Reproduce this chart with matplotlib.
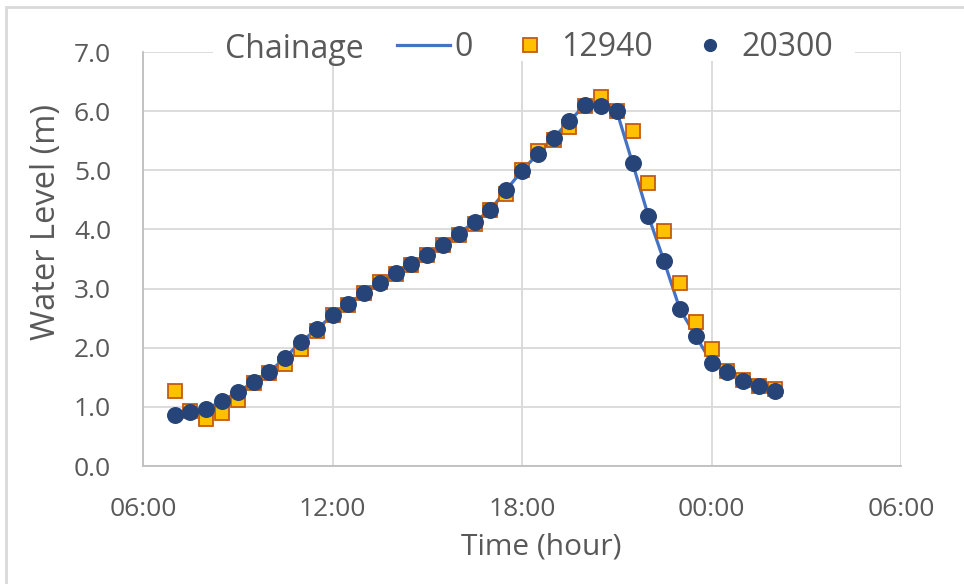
import matplotlib.pyplot as plt
from matplotlib.lines import Line2D
from matplotlib.patches import Rectangle
from matplotlib.ticker import FuncFormatter

plt.rcParams['font.family'] = ['Open Sans', 'DejaVu Sans']

# time in hours since midnight of day 1 (values > 24 are next day)
hours = [7.0, 7.5, 8.0, 8.5, 9.0, 9.5, 10.0, 10.5, 11.0, 11.5,
         12.0, 12.5, 13.0, 13.5, 14.0, 14.5, 15.0, 15.5, 16.0, 16.5,
         17.0, 17.5, 18.0, 18.5, 19.0, 19.5, 20.0, 20.5, 21.0, 21.5,
         22.0, 22.5, 23.0, 23.5, 24.0, 24.5, 25.0, 25.5, 26.0]

# water level (m) per chainage
wl_0 = [0.86, 0.91, 0.96, 1.10, 1.25, 1.42, 1.59, 1.83, 2.10, 2.31,
        2.55, 2.74, 2.93, 3.09, 3.26, 3.41, 3.57, 3.74, 3.93, 4.13,
        4.33, 4.67, 4.99, 5.28, 5.55, 5.83, 6.11, 6.08, 6.00, 5.12,
        4.23, 3.46, 2.65, 2.20, 1.75, 1.59, 1.43, 1.35, 1.27]
wl_12940 = [1.26, 0.93, 0.80, 0.89, 1.12, 1.40, 1.58, 1.73, 1.98, 2.29,
            2.55, 2.73, 2.92, 3.11, 3.25, 3.40, 3.56, 3.73, 3.91, 4.10,
            4.33, 4.60, 5.00, 5.33, 5.52, 5.73, 6.08, 6.24, 6.01, 5.67,
            4.78, 3.98, 3.09, 2.43, 1.97, 1.60, 1.45, 1.35, 1.31]
wl_20300 = [0.86, 0.91, 0.96, 1.10, 1.25, 1.42, 1.59, 1.83, 2.10, 2.31,
            2.55, 2.74, 2.93, 3.09, 3.26, 3.41, 3.57, 3.74, 3.93, 4.13,
            4.33, 4.67, 4.99, 5.28, 5.55, 5.83, 6.11, 6.08, 6.00, 5.13,
            4.23, 3.46, 2.65, 2.20, 1.75, 1.59, 1.43, 1.35, 1.27]

txt = '#595959'
grid = '#d9d9d9'
W, H = 964, 584

fig = plt.figure(figsize=(9.64, 5.84), dpi=100)
ax = fig.add_axes([143/W, 118/H, 758/W, 414/H])

ax.plot(hours, wl_0, color='#4472c4', lw=2.3, zorder=3)
ax.plot(hours, wl_12940, ls='none', marker='s', ms=9.4, mfc='#ffc000',
        mec='#c55a11', mew=1.3, zorder=4)
ax.plot(hours, wl_20300, ls='none', marker='o', ms=11.2, mfc='#264478',
        mec='#264478', zorder=5)

ax.set_xlim(6, 30)
ax.set_ylim(0, 7)
ax.set_xticks([6, 12, 18, 24, 30])
ax.set_yticks([0, 1, 2, 3, 4, 5, 6, 7])
ax.xaxis.set_major_formatter(FuncFormatter(lambda v, p: '%02d:00' % (int(v) % 24)))
ax.yaxis.set_major_formatter(FuncFormatter(lambda v, p: '%.1f' % v))
ax.grid(True, color=grid, lw=1.3)
ax.set_axisbelow(True)
for s in ax.spines.values():
    s.set_visible(False)
for side in ['left', 'bottom']:
    ax.spines[side].set_visible(True)
    ax.spines[side].set_color('#bfbfbf')
    ax.spines[side].set_linewidth(1.3)
ax.tick_params(length=0, labelsize=19, colors=txt)
ax.tick_params(axis='x', pad=22)
ax.tick_params(axis='y', pad=23)

# axis titles (manually placed, like the original)
ax.set_xlabel('Time (hour)', fontsize=21.5, color=txt)
ax.xaxis.set_label_coords((541 - 143) / 758, (466 - 547) / 414)
ax.xaxis.label.set_va('center')
fig.text(47/W, 1 - 222/H, 'Water Level (m)', rotation=90, ha='center',
         va='center', fontsize=23.5, color=txt)

# legend sits over the top gridline on a white band
fig.patches.append(Rectangle((213/W, 1 - 61/H), (855 - 213)/W, 26/H,
                             transform=fig.transFigure, facecolor='white',
                             edgecolor='none', zorder=2))
fig.text(225/W, 1 - 58/H, 'Chainage', ha='left', va='baseline',
         fontsize=23, color=txt, zorder=3)
handles = [Line2D([], [], color='#4472c4', lw=2.3),
           Line2D([], [], ls='none', marker='s', ms=9.5, mfc='#ffc000', mec='#c55a11', mew=1.3),
           Line2D([], [], ls='none', marker='o', ms=8.5, mfc='#264478', mec='#264478')]
labels = ['0', '12940', '20300']
leg = fig.legend(handles, labels, ncol=3, loc='center left',
                 bbox_to_anchor=(397/W, 1 - 48/H), fontsize=23, frameon=False,
                 handlelength=1.66, handletextpad=0.15, columnspacing=0.95,
                 borderpad=0, borderaxespad=0)
leg.set_zorder(4)
for t in leg.get_texts():
    t.set_color(txt)

# chart area border
fig.patches.append(Rectangle((6/W, -0.1), 1.2, 1.1 - 7/H, transform=fig.transFigure,
                             fill=False, edgecolor='#d9d9d9', lw=2))

fig.savefig('out.png', dpi=100)
